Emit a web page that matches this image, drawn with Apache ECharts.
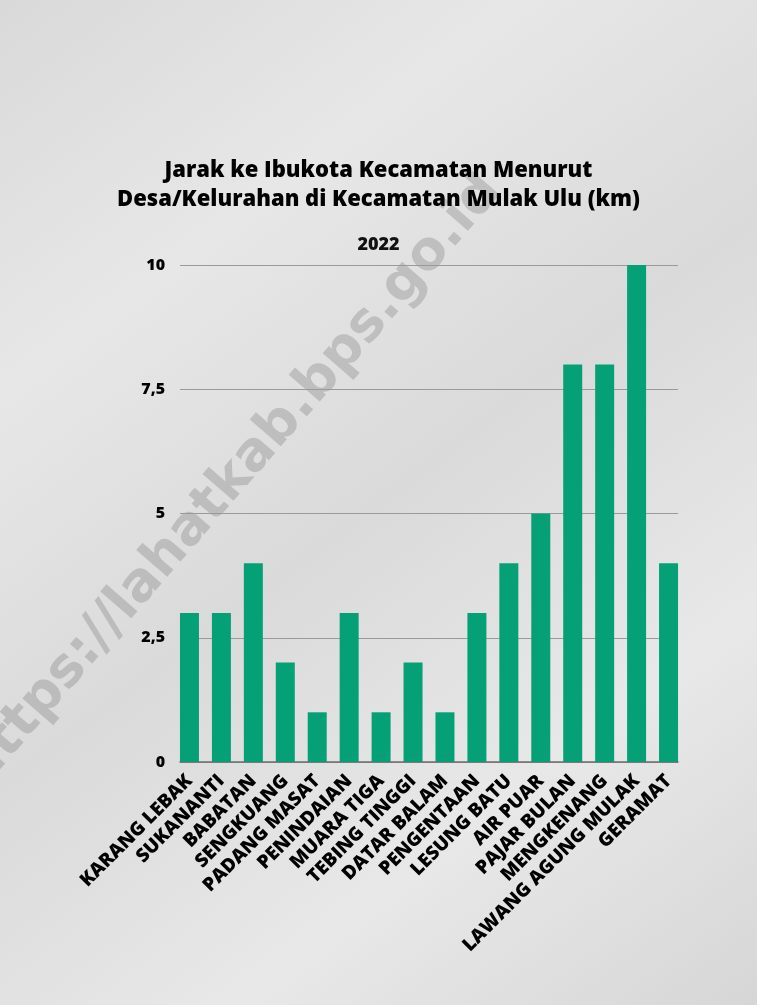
<!DOCTYPE html>
<html>
<head>
<meta charset="utf-8">
<script src="https://cdn.jsdelivr.net/npm/echarts@6/dist/echarts.min.js"></script>
<style>
html,body{margin:0;padding:0;}
#c{width:757px;height:1005px;}
</style>
</head>
<body>
<div id="c"></div>
<script>
const categories = ["KARANG LEBAK","SUKANANTI","BABATAN","SENGKUANG","PADANG MASAT","PENINDAIAN","MUARA TIGA","TEBING TINGGI","DATAR BALAM","PENGENTAAN","LESUNG BATU","AIR PUAR","PAJAR BULAN","MENGKENANG","LAWANG AGUNG MULAK","GERAMAT"];
const jarak = [3,3,4,2,1,3,1,2,1,3,4,5,8,8,10,4];
const yTicks = [0,2.5,5,7.5,10];

const chart = echarts.init(document.getElementById('c'));
chart.setOption({
  backgroundColor: {
    type:'linear', x:0, y:0, x2:1, y2:1,
    colorStops:[
      {offset:0, color:'#d9d9d9'},
      {offset:0.25, color:'#e7e7e7'},
      {offset:0.5, color:'#dadada'},
      {offset:0.75, color:'#e8e8e8'},
      {offset:1, color:'#d6d6d6'}
    ]
  },
  title: [{
    text: 'Jarak ke Ibukota Kecamatan Menurut\nDesa/Kelurahan di Kecamatan Mulak Ulu (km)',
    left: 'center', top: 151,
    textStyle: {fontFamily:'Open Sans', fontWeight:800, fontSize:22, color:'#000', lineHeight:29}
  },{
    text: '2022',
    left: 'center', top: 231,
    textStyle: {fontFamily:'Open Sans', fontWeight:800, fontSize:18, color:'#111'}
  }],
  graphic: [{
    type:'text', x: 492, y: 182, rotation: 49*Math.PI/180,
    style: {text:'https://lahatkab.bps.go.id', fontFamily:'DejaVu Sans', fontWeight:700, fontSize:54,
      fill:'rgba(90,90,90,0.25)', align:'right', verticalAlign:'middle'},
    silent:true, z:-1
  }],
  grid: [
    {left:173.5, right:72.5, top:265, bottom:243},
    {left:180, right:79, top:265, bottom:243}
  ],
  xAxis: [{
    type:'category', data: categories, gridIndex:0,
    axisLine:{show:false},
    axisTick:{show:false},
    axisLabel:{rotate:45, interval:0, margin:16, fontFamily:'Open Sans', fontWeight:800, fontSize:19, color:'#000'}
  },{
    type:'value', gridIndex:1, min:0, max:1,
    axisLine:{show:true, onZero:false, lineStyle:{color:'#6f6f6f', width:1.5}},
    axisTick:{show:false}, axisLabel:{show:false}, splitLine:{show:false}
  }],
  yAxis: [{
    type:'value', gridIndex:0, min:0, max:10, interval:2.5, show:false,
    splitLine:{show:false}
  },{
    type:'value', gridIndex:1, min:0, max:10, interval:2.5,
    axisLine:{show:false}, axisTick:{show:false},
    splitLine:{lineStyle:{color:'#9a9a9a', width:1}},
    axisLabel:{margin:15, fontFamily:'Open Sans', fontWeight:800, fontSize:16, color:'#000',
      formatter: v => yTicks.includes(v) ? String(v).replace('.', ',') : ''}
  }],
  series: [{
    type:'bar', data: jarak, barWidth:19, xAxisIndex:0, yAxisIndex:0,
    itemStyle:{color:'#06a077'}
  }]
});
</script>
</body>
</html>
